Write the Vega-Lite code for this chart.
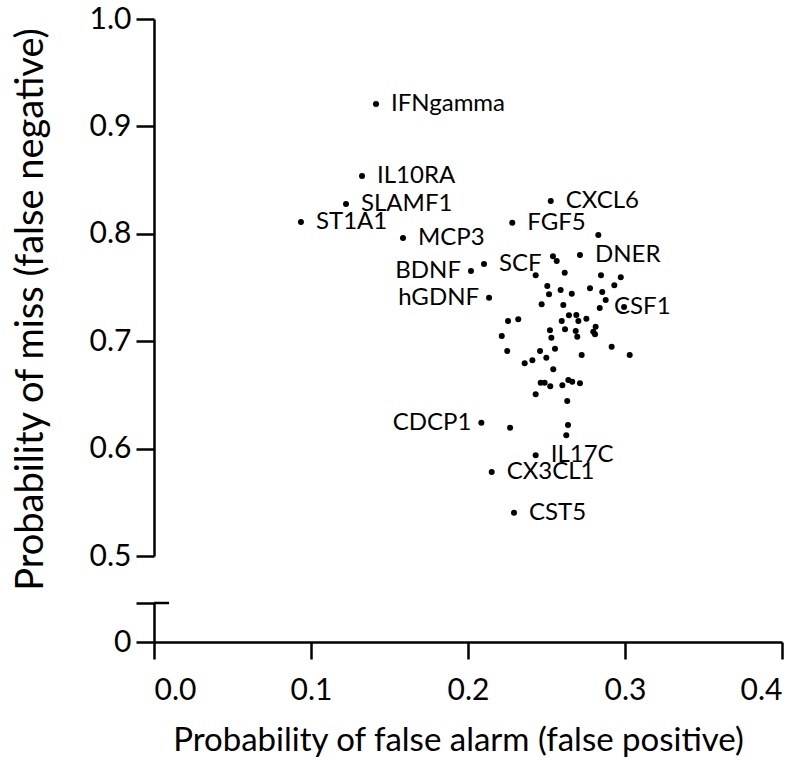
{
  "$schema": "https://vega.github.io/schema/vega-lite/v6.json",
  "background": "white",
  "padding": {"left": 11, "top": 4, "right": 0, "bottom": 0},
  "config": {
    "font": "Lato",
    "view": {"stroke": null},
    "axis": {
      "domainColor": "black", "tickColor": "black", "labelColor": "black", "titleColor": "black",
      "grid": false, "domainWidth": 2.5, "tickWidth": 2.5,
      "labelFont": "Lato", "titleFont": "Lato", "titleFontWeight": "normal"
    }
  },
  "bounds": "flush",
  "spacing": 47,
  "vconcat": [
    {
      "width": 628,
      "height": 537,
      "data": {"values": [
        {"x": 0.1414, "y": 0.9209, "label": "IFNgamma"},
        {"x": 0.1325, "y": 0.8538, "label": "IL10RA"},
        {"x": 0.1223, "y": 0.8277, "label": "SLAMF1"},
        {"x": 0.0936, "y": 0.8110, "label": "ST1A1"},
        {"x": 0.1586, "y": 0.7961, "label": "MCP3"},
        {"x": 0.2527, "y": 0.8305, "label": "CXCL6"},
        {"x": 0.2282, "y": 0.8103, "label": "FGF5"},
        {"x": 0.2713, "y": 0.7803, "label": "DNER"},
        {"x": 0.2102, "y": 0.7719, "label": "SCF"},
        {"x": 0.2019, "y": 0.7654, "label": "BDNF"},
        {"x": 0.2134, "y": 0.7405, "label": "hGDNF"},
        {"x": 0.2994, "y": 0.7318, "label": "CSF1"},
        {"x": 0.2085, "y": 0.6241, "label": "CDCP1"},
        {"x": 0.2431, "y": 0.5938, "label": "IL17C"},
        {"x": 0.2151, "y": 0.5782, "label": "CX3CL1"},
        {"x": 0.2293, "y": 0.5403, "label": "CST5"},
        {"x": 0.2830, "y": 0.7989, "label": ""},
        {"x": 0.2541, "y": 0.7791, "label": ""},
        {"x": 0.2565, "y": 0.7747, "label": ""},
        {"x": 0.2616, "y": 0.7638, "label": ""},
        {"x": 0.2431, "y": 0.7614, "label": ""},
        {"x": 0.2847, "y": 0.7614, "label": ""},
        {"x": 0.2973, "y": 0.7595, "label": ""},
        {"x": 0.2505, "y": 0.7514, "label": ""},
        {"x": 0.2516, "y": 0.7437, "label": ""},
        {"x": 0.2590, "y": 0.7477, "label": ""},
        {"x": 0.2661, "y": 0.7442, "label": ""},
        {"x": 0.2777, "y": 0.7493, "label": ""},
        {"x": 0.2855, "y": 0.7458, "label": ""},
        {"x": 0.2932, "y": 0.7520, "label": ""},
        {"x": 0.2877, "y": 0.7384, "label": ""},
        {"x": 0.2839, "y": 0.7309, "label": ""},
        {"x": 0.2469, "y": 0.7344, "label": ""},
        {"x": 0.2607, "y": 0.7337, "label": ""},
        {"x": 0.2643, "y": 0.7241, "label": ""},
        {"x": 0.2690, "y": 0.7244, "label": ""},
        {"x": 0.2703, "y": 0.7188, "label": ""},
        {"x": 0.2754, "y": 0.7209, "label": ""},
        {"x": 0.2597, "y": 0.7188, "label": ""},
        {"x": 0.2320, "y": 0.7204, "label": ""},
        {"x": 0.2255, "y": 0.7188, "label": ""},
        {"x": 0.2813, "y": 0.7135, "label": ""},
        {"x": 0.2798, "y": 0.7088, "label": ""},
        {"x": 0.2809, "y": 0.7064, "label": ""},
        {"x": 0.2618, "y": 0.7111, "label": ""},
        {"x": 0.2522, "y": 0.7101, "label": ""},
        {"x": 0.2686, "y": 0.7095, "label": ""},
        {"x": 0.2696, "y": 0.7042, "label": ""},
        {"x": 0.2531, "y": 0.7033, "label": ""},
        {"x": 0.2215, "y": 0.7048, "label": ""},
        {"x": 0.2554, "y": 0.6930, "label": ""},
        {"x": 0.2459, "y": 0.6909, "label": ""},
        {"x": 0.2250, "y": 0.6909, "label": ""},
        {"x": 0.2915, "y": 0.6949, "label": ""},
        {"x": 0.3030, "y": 0.6872, "label": ""},
        {"x": 0.2724, "y": 0.6872, "label": ""},
        {"x": 0.2410, "y": 0.6822, "label": ""},
        {"x": 0.2361, "y": 0.6794, "label": ""},
        {"x": 0.2499, "y": 0.6846, "label": ""},
        {"x": 0.2543, "y": 0.6738, "label": ""},
        {"x": 0.2463, "y": 0.6614, "label": ""},
        {"x": 0.2488, "y": 0.6614, "label": ""},
        {"x": 0.2524, "y": 0.6580, "label": ""},
        {"x": 0.2601, "y": 0.6589, "label": ""},
        {"x": 0.2639, "y": 0.6639, "label": ""},
        {"x": 0.2664, "y": 0.6623, "label": ""},
        {"x": 0.2713, "y": 0.6608, "label": ""},
        {"x": 0.2431, "y": 0.6506, "label": ""},
        {"x": 0.2632, "y": 0.6443, "label": ""},
        {"x": 0.2637, "y": 0.6220, "label": ""},
        {"x": 0.2268, "y": 0.6195, "label": ""},
        {"x": 0.2626, "y": 0.6124, "label": ""}
      ]},
      "encoding": {
        "x": {"field": "x", "type": "quantitative", "scale": {"domain": [0, 0.4]}, "axis": null},
        "y": {
          "field": "y", "type": "quantitative", "scale": {"domain": [0.5, 1.0]},
          "axis": {
            "values": [0.5, 0.6, 0.7, 0.8, 0.9, 1.0], "format": ".1f",
            "tickSize": 18, "labelPadding": 5, "labelFontSize": 30,
            "title": "Probability of miss (false negative)", "titleFontSize": 38,
            "titleY": 290, "titleX": -104
          }
        }
      },
      "layer": [
        {"mark": {"type": "circle", "size": 36, "color": "black", "opacity": 1}},
        {
          "transform": [{"filter": "datum.label != '' && indexof(['BDNF','hGDNF','CDCP1','CSF1'], datum.label) < 0"}],
          "mark": {"type": "text", "align": "left", "baseline": "middle", "dx": 15, "fontSize": 24, "color": "black"},
          "encoding": {"text": {"field": "label"}}
        },
        {
          "transform": [{"filter": "indexof(['BDNF','hGDNF','CDCP1'], datum.label) >= 0"}],
          "mark": {"type": "text", "align": "right", "baseline": "middle", "dx": -10, "fontSize": 24, "color": "black"},
          "encoding": {"text": {"field": "label"}}
        },
        {
          "transform": [{"filter": "datum.label == 'CSF1'"}],
          "mark": {"type": "text", "align": "left", "baseline": "middle", "dx": -10, "fontSize": 24, "color": "black"},
          "encoding": {"text": {"field": "label"}}
        },
        {
          "data": {"values": [{}]},
          "mark": {"type": "rule", "strokeWidth": 2.5, "color": "black"},
          "encoding": {"x": {"datum": 0}, "x2": {"datum": 0.0096}, "y": {"datum": 0.5}}
        }
      ]
    },
    {
      "width": 628,
      "height": 39,
      "data": {"values": [{}]},
      "mark": {"type": "rule", "strokeWidth": 2.5, "color": "black"},
      "encoding": {
        "x": {
          "datum": 0, "type": "quantitative", "scale": {"domain": [0, 0.4]},
          "axis": {
            "values": [0, 0.1, 0.2, 0.3, 0.4], "format": ".1f", "tickSize": 17,
            "labelFontSize": 30, "labelPadding": 16,
            "title": "Probability of false alarm (false positive)", "titleFontSize": 33,
            "titlePadding": 19, "titleX": 304
          }
        },
        "x2": {"datum": 0.0096},
        "y": {
          "datum": 1, "type": "quantitative", "scale": {"domain": [0, 1]},
          "axis": {
            "values": [0, 1], "labelExpr": "datum.value == 0 ? '0' : ''",
            "tickSize": 18, "labelPadding": 5, "labelFontSize": 30, "title": null
          }
        }
      }
    }
  ]
}
